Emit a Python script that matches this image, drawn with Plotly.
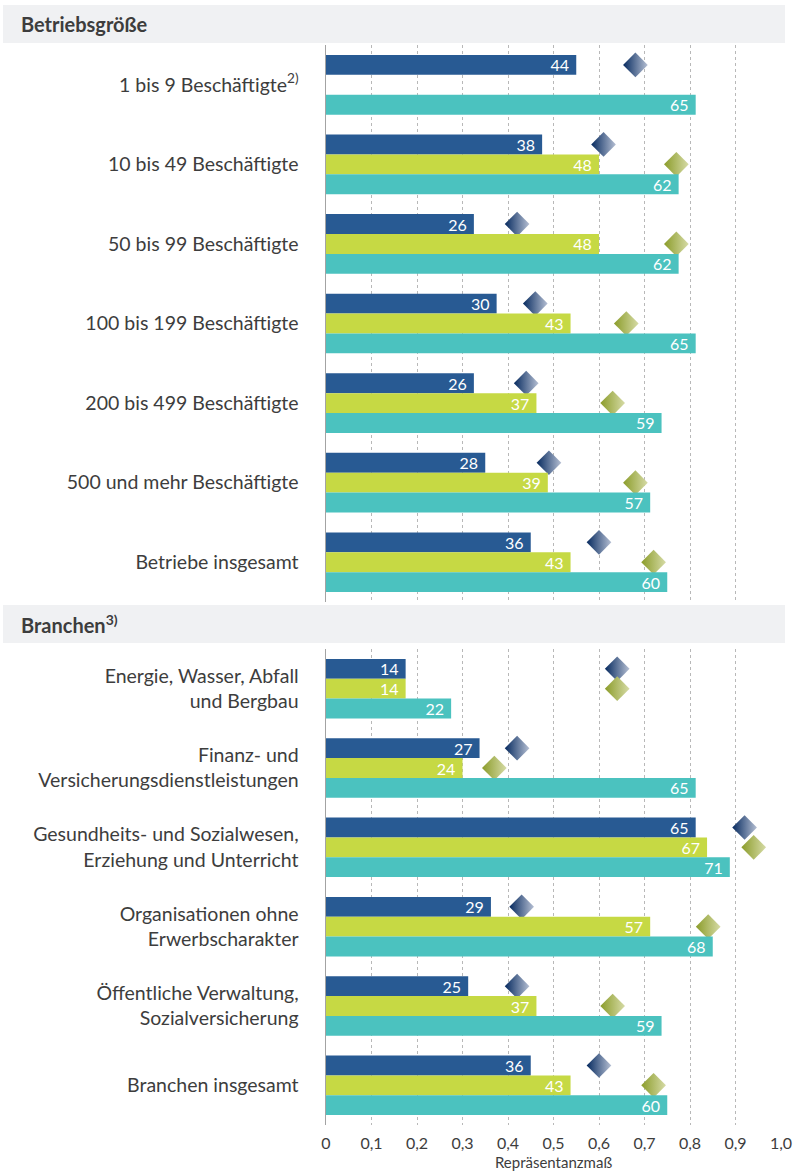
import plotly.graph_objects as go

# ---------------- data ----------------
top_cats = ["1 bis 9 Beschäftigte<sup>2)</sup>", "10 bis 49 Beschäftigte", "50 bis 99 Beschäftigte",
            "100 bis 199 Beschäftigte", "200 bis 499 Beschäftigte", "500 und mehr Beschäftigte",
            "Betriebe insgesamt"]
top_first = [44, 38, 26, 30, 26, 28, 36]
top_second = [None, 48, 48, 43, 37, 39, 43]
top_total = [65, 62, 62, 65, 59, 57, 60]
top_rm_first = [0.68, 0.61, 0.42, 0.46, 0.44, 0.49, 0.60]
top_rm_second = [None, 0.77, 0.77, 0.66, 0.63, 0.68, 0.72]

bot_cats = ["Energie, Wasser, Abfall<br>und Bergbau", "Finanz- und<br>Versicherungsdienstleistungen",
            "Gesundheits- und Sozialwesen,<br>Erziehung und Unterricht", "Organisationen ohne<br>Erwerbscharakter",
            "Öffentliche Verwaltung,<br>Sozialversicherung", "Branchen insgesamt"]
bot_first = [14, 27, 65, 29, 25, 36]
bot_second = [14, 24, 67, 57, 37, 43]
bot_total = [22, 65, 71, 68, 59, 60]
bot_rm_first = [0.64, 0.42, 0.92, 0.43, 0.42, 0.60]
bot_rm_second = [0.64, 0.37, 0.94, 0.84, 0.63, 0.72]

x_tickvals = [0, 0.1, 0.2, 0.3, 0.4, 0.5, 0.6, 0.7, 0.8, 0.9, 1.0]
x_ticktext = ["0", "0,1", "0,2", "0,3", "0,4", "0,5", "0,6", "0,7", "0,8", "0,9", "1,0"]

section_titles = ["Betriebsgröße", "Branchen<sup>3)</sup>"]

# ---------------- style ----------------
FONT = "Lato"
TXT = "#3d3d3d"
C_DARK = "#285a93"
C_LIME = "#c6d944"
C_TEAL = "#4bc2bf"
D_DARK = "#062a5f"
D_DARK_L = "#b5bfd3"
D_LIME = "#8b9c2a"
D_LIME_L = "#d6dba6"

W, H = 799, 1174
ML, MR, MT, MB = 326, 18, 45, 49
PW = W - ML - MR
PH = H - MT - MB


def px_x(p):
    return (p - ML) / PW


def px_y(p):
    return (H - MB - p) / PH


top_dom = [px_y(602), 1.0]
bot_dom = [0.0, px_y(649)]

fig = go.Figure()


def add_section(cats, first, second, total, rm1, rm2, xa_main, xa_bar, ya):
    for vals, col in [(first, C_DARK), (second, C_LIME), (total, C_TEAL)]:
        fig.add_trace(go.Bar(
            x=vals, y=cats, orientation="h", xaxis=xa_bar, yaxis=ya,
            marker=dict(color=col, line=dict(width=0)),
            texttemplate="%{x}\u00a0", textposition="inside", insidetextanchor="end",
            textfont=dict(color="white", size=16, family=FONT),
            constraintext="none", showlegend=False, hoverinfo="skip", cliponaxis=False))
    for vals, col, lcol, op in [(rm1, D_DARK, D_DARK_L, 1), (rm2, D_LIME, D_LIME_L, 1),
                                ([None] * len(cats), D_DARK, D_DARK_L, 0)]:
        fig.add_trace(go.Scatter(
            x=vals, y=cats, orientation="h", mode="markers", xaxis=xa_main, yaxis=ya,
            marker=dict(symbol="diamond", size=19, color=col, opacity=op,
                        gradient=dict(type="horizontal", color=lcol), line=dict(width=0)),
            showlegend=False, hoverinfo="skip", cliponaxis=False))


add_section(top_cats, top_first, top_second, top_total, top_rm_first, top_rm_second, "x", "x3", "y")
add_section(bot_cats, bot_first, bot_second, bot_total, bot_rm_first, bot_rm_second, "x2", "x4", "y2")

xgrid = dict(range=[0, 1.0], showgrid=True, gridcolor="#b8b8b8", griddash="dot", gridwidth=1,
             zeroline=False, showline=False, tickvals=x_tickvals, ticktext=x_ticktext,
             fixedrange=True)
ycommon = dict(type="category", autorange="reversed", showgrid=False, zeroline=False,
               showline=True, linecolor="#a3a3a3", linewidth=1.5, ticks="outside", ticklen=22,
               tickcolor="rgba(0,0,0,0)", tickfont=dict(family=FONT, size=19.5, color=TXT),
               fixedrange=True)

fig.update_layout(
    width=W, height=H,
    margin=dict(l=ML, r=MR, t=MT, b=MB, autoexpand=False),
    paper_bgcolor="white", plot_bgcolor="white",
    font=dict(family=FONT, color=TXT),
    barmode="group", bargap=0.25, bargroupgap=0,
    scattermode="group", scattergap=0.25,
    showlegend=False,
    xaxis=dict(**xgrid, anchor="y", domain=[0, 1], showticklabels=False, ticks=""),
    xaxis2=dict(**xgrid, anchor="y2", domain=[0, 1], showticklabels=True,
                ticks="outside", ticklen=4, tickcolor="rgba(0,0,0,0)",
                tickfont=dict(family=FONT, size=16, color=TXT),
                title=dict(text="Repräsentanzmaß", font=dict(family=FONT, size=15, color=TXT), standoff=6)),
    xaxis3=dict(overlaying="x", anchor="y", range=[0, 80], visible=False, fixedrange=True),
    xaxis4=dict(overlaying="x2", anchor="y2", range=[0, 80], visible=False, fixedrange=True),
    yaxis=dict(**ycommon, domain=top_dom, anchor="x"),
    yaxis2=dict(**ycommon, domain=bot_dom, anchor="x2"),
)

# section header bands
for (p0, p1), title in zip([(5, 43), (605, 643)], section_titles):
    fig.add_shape(type="rect", xref="paper", yref="paper",
                  x0=px_x(3), x1=px_x(785), y0=px_y(p1), y1=px_y(p0),
                  fillcolor="#f0f1f3", line=dict(width=0), layer="below")
    fig.add_annotation(xref="paper", yref="paper", x=px_x(19), y=px_y((p0 + p1) / 2),
                       xanchor="left", yanchor="middle", showarrow=False,
                       text="<b>" + title + "</b>",
                       font=dict(family=FONT, size=20, color=TXT))

fig.write_html("out.html", config={"displayModeBar": False, "staticPlot": True},
               post_script="document.body.style.margin='0';document.body.style.overflow='hidden';")
